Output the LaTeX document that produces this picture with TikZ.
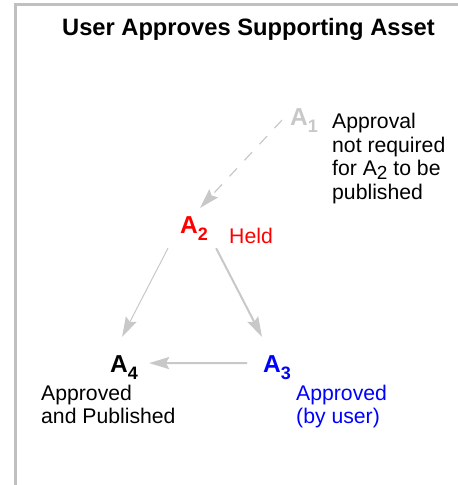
\documentclass[tikz,border=0pt]{standalone}
\usepackage{fontspec}
\setmainfont{Liberation Sans}
\usepackage{xcolor}
\usepackage{tikz}
\usetikzlibrary{arrows.meta}

\definecolor{linegray}{HTML}{C8C8C8}
\definecolor{framegray}{HTML}{C0C0C0}
\newcommand{\assetsub}[1]{\raisebox{-7pt}{\fontsize{18}{18}\selectfont #1}}

\begin{document}
\begin{tikzpicture}[x=1pt, y=-1pt,
    asset/.style={font=\fontsize{24.5}{24}\selectfont\bfseries, inner sep=8pt, anchor=base west},
    note/.style={font=\fontsize{21.2}{23.5}\selectfont, inner sep=0pt, anchor=north west, align=left},
    link/.style={draw=linegray, -{Stealth[length=20pt, width=12pt, inset=3pt]}}]
\useasboundingbox (0,0) rectangle (458,485);
\draw[framegray, line width=3pt] (458,4.5) -- (15.5,4.5) -- (15.5,485);
\node[anchor=base, font=\fontsize{23.7}{24}\selectfont\bfseries] (title) at (248.5,35) {User Approves Supporting Asset};

\node[asset, linegray] (a1) at (282,125) {A\assetsub{1}};
\node[asset, red]      (a2) at (172,233) {A\assetsub{2}};
\node[asset, blue]     (a3) at (255,372) {A\assetsub{3}};
\node[asset]           (a4) at (102,372) {A\assetsub{4}};

\node[note] (n1) at (332,113) {Approval\\not required\\for A\raisebox{-4pt}[\height][0pt]{\fontsize{19}{19}\selectfont 2} to be\\published};
\node[note, red, anchor=base west] (held) at (229,243) {Held};
\node[note] (n4) at (41,384.5) {Approved\\and Published};
\node[note, blue] (n3) at (296,384.5) {Approved\\(by user)};

\draw[link, line width=1.2pt, dash pattern=on 11pt off 11pt] (a1.west) -- ([xshift=6pt]a2.north);
\draw[link, line width=1pt] ([xshift=-4pt]a2.south west) -- ([shift={(-2pt,10pt)}]a4.north);
\draw[link, line width=2pt] (a2.south east) -- ([shift={(7pt,10pt)}]a3.north west);
\draw[link, line width=2pt] ([shift={(-8pt,4pt)}]a3.west) -- ([shift={(3pt,4pt)}]a4.east);
\end{tikzpicture}
\end{document}
